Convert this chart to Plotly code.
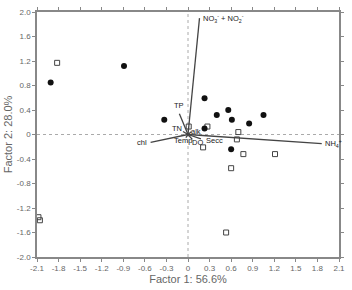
import plotly.graph_objects as go

# Sample scores
filled_x = [-1.91, -0.89, -0.33, 0.23, 0.40, 0.56, 0.61, 0.85, 1.05, 0.23, 0.60]
filled_y = [0.85, 1.12, 0.24, 0.59, 0.32, 0.40, 0.24, 0.18, 0.32, 0.10, -0.24]
open_x = [-1.82, -2.08, -2.06, 0.01, 0.27, 0.70, 0.68, 0.21, 0.77, 1.21, 0.60, 0.53]
open_y = [1.17, -1.35, -1.40, 0.13, 0.13, 0.04, -0.08, -0.21, -0.32, -0.32, -0.55, -1.60]

# Variable loadings (vectors)
var_names = ["NO<sub>3</sub><sup>-</sup> + NO<sub>2</sub><sup>-</sup>", "NH<sub>4</sub><sup>+</sup>", "chl", "TP", "TN", "alk", "Temp", "DO", "Secc"]
var_x = [0.16, 1.86, -0.52, -0.12, -0.07, 0.05, -0.03, 0.06, 0.18]
var_y = [1.90, -0.15, -0.13, 0.34, 0.05, 0.05, -0.05, -0.08, -0.07]
label_x = [0.18, 1.88, -0.54, -0.13, -0.06, 0.11, -0.07, 0.13, 0.22]
label_y = [1.90, -0.15, -0.13, 0.36, 0.10, 0.055, -0.10, -0.13, -0.10]
label_anchor = ["left", "left", "right", "center", "right", "center", "center", "center", "left"]
label_yanchor = ["middle", "middle", "middle", "bottom", "middle", "middle", "middle", "middle", "middle"]

x_ticks = [-2.1, -1.8, -1.5, -1.2, -0.9, -0.6, -0.3, 0, 0.3, 0.6, 0.9, 1.2, 1.5, 1.8, 2.1]
x_tick_text = ["-2.1", "-1.8", "-1.5", "-1.2", "-0.9", "-0.6", "-0.3", "0", "0.3", "0.6", "0.9", "1.2", "1.5", "1.8", "2.1"]
y_ticks = [2.0, 1.6, 1.2, 0.8, 0.4, 0, -0.4, -0.8, -1.2, -1.6, -2.0]
y_tick_text = ["2.0", "1.6", "1.2", "0.8", "0.4", "0", "-0.4", "-0.8", "-1.2", "-1.6", "-2.0"]

FONT = "Liberation Sans Narrow, Arial Narrow, sans-serif"

fig = go.Figure()

# zero reference lines
fig.add_trace(go.Scatter(x=[-2.1, 2.1], y=[0, 0], mode="lines",
                         line=dict(color="#aaaaaa", width=1, dash="dot"), hoverinfo="skip"))
fig.add_trace(go.Scatter(x=[0, 0], y=[-2.0, 2.0], mode="lines",
                         line=dict(color="#aaaaaa", width=1, dash="dot"), hoverinfo="skip"))

# vectors
vx, vy = [], []
for x, y in zip(var_x, var_y):
    vx += [0, x, None]
    vy += [0, y, None]
fig.add_trace(go.Scatter(x=vx, y=vy, mode="lines", line=dict(color="#444444", width=1.3), hoverinfo="skip"))

fig.add_trace(go.Scatter(x=open_x, y=open_y, mode="markers",
                         marker=dict(symbol="square-open", size=5, color="#444444", line=dict(width=1))))
fig.add_trace(go.Scatter(x=filled_x, y=filled_y, mode="markers",
                         marker=dict(symbol="circle", size=6, color="#111111")))

for n, x, y, xa, ya in zip(var_names, label_x, label_y, label_anchor, label_yanchor):
    fig.add_annotation(x=x, y=y, text=n, showarrow=False, xanchor=xa, yanchor=ya,
                       font=dict(size=7.5, color="#222222", family=FONT))

axis_common = dict(showgrid=False, zeroline=False, showline=True, linecolor="#888888", linewidth=1.5,
                   mirror="ticks", ticks="outside", ticklen=3, tickcolor="#888888",
                   tickfont=dict(size=8, color="#666666", family=FONT))

fig.update_xaxes(range=[-2.1, 2.1], tickvals=x_ticks, ticktext=x_tick_text,
                 title=dict(text="Factor 1: 56.6%", font=dict(size=11, color="#666666", family="Liberation Sans, Arial, sans-serif"), standoff=2),
                 **axis_common)
fig.update_yaxes(range=[-2.0, 2.0], tickvals=y_ticks, ticktext=y_tick_text,
                 title=dict(text="Factor 2: 28.0%", font=dict(size=11, color="#666666", family="Liberation Sans, Arial, sans-serif"), standoff=2),
                 **axis_common)

fig.update_layout(width=352, height=290, margin=dict(l=29, r=7, t=9, b=26),
                  plot_bgcolor="white", paper_bgcolor="white", showlegend=False)

fig.write_html("out.html")
